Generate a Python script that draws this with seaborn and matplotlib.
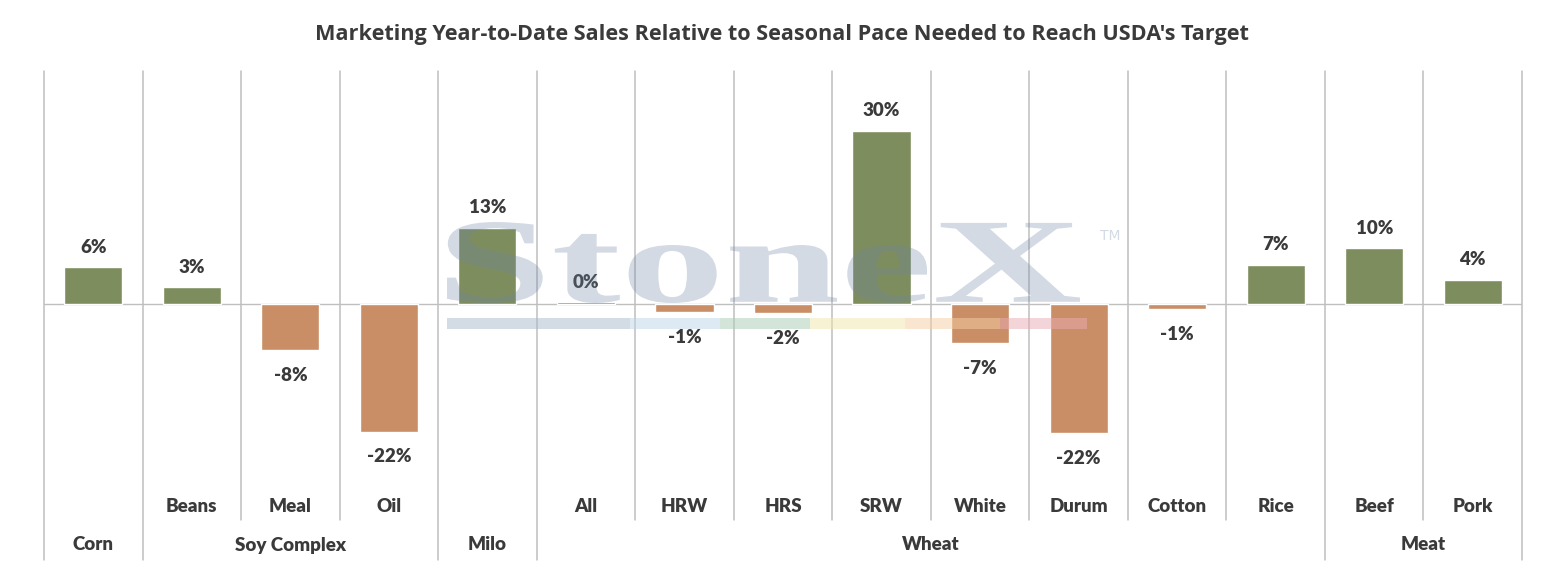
import matplotlib
matplotlib.use("Agg")
import matplotlib.pyplot as plt
import seaborn as sns
from matplotlib.textpath import TextPath
from matplotlib.font_manager import FontProperties
from matplotlib.patches import PathPatch, Rectangle
from matplotlib.transforms import Affine2D

# Data
items = ["Corn", "Beans", "Meal", "Oil", "Milo", "All", "HRW", "HRS",
         "SRW", "White", "Durum", "Cotton", "Rice", "Beef", "Pork"]
sub_labels = ["", "Beans", "Meal", "Oil", "", "All", "HRW", "HRS",
              "SRW", "White", "Durum", "Cotton", "Rice", "Beef", "Pork"]
groups = ["Corn", "Soy Complex", "Milo", "Wheat", "Meat"]
group_sizes = [1, 3, 1, 8, 2]
pace = [6.4, 2.9, -8.0, -22.1, 13.2, 0.3, -1.4, -1.6,
        30.0, -6.8, -22.4, -0.9, 6.8, 9.7, 4.2]

GREEN = "#7E8D5E"
ORANGE = "#C98E66"
GRID = "#BFBFBF"
TEXT = "#3A3A3A"
W, H = 1544, 575

sns.set_theme(style="white")
plt.rcParams["font.family"] = ["Lato", "DejaVu Sans"]

fig = plt.figure(figsize=(W / 100, H / 100), dpi=100)
# plot area in pixels: x 44..1522, y 71..560 (top-origin)
ax = fig.add_axes([44 / W, (H - 560) / H, (1522 - 44) / W, (560 - 71) / H])

sign = ["pos" if v >= 0 else "neg" for v in pace]
sns.barplot(x=items, y=pace, hue=sign, palette={"pos": GREEN, "neg": ORANGE},
            width=0.59, dodge=False, legend=False, saturation=1, ax=ax, zorder=3)

px = 5.77  # pixels per percent point
ax.set_ylim(-(560 - 304) / px, (304 - 71) / px)
ax.set_xlim(-0.5, len(items) - 0.5)
for s in ax.spines.values():
    s.set_visible(False)
ax.set_xticks([])
ax.set_yticks([])
ax.set_xlabel("")
ax.set_ylabel("")
ax.axhline(0, color=GRID, lw=1, zorder=2)


def yfrac(py):
    return (560 - py) / 489


# category separators; group edges run down through the group row
edges = [0]
for n in group_sizes:
    edges.append(edges[-1] + n)
xt = ax.get_xaxis_transform()
for b in range(len(items) + 1):
    bottom = 0 if b in edges else yfrac(520)
    ax.plot([b - 0.5, b - 0.5], [bottom, 1], color=GRID, lw=1.1,
            transform=xt, clip_on=False, zorder=1)

# data labels
for i, v in enumerate(pace):
    off = 10.4 if v >= 0 else -22
    ax.annotate(f"{v:.0f}%", (i, v), xytext=(0, off), textcoords="offset points",
                ha="center", va="baseline", fontsize=13.5, fontweight="heavy",
                color=TEXT, zorder=5)

# two-row category axis
for i, lab in enumerate(sub_labels):
    ax.text(i, yfrac(506), lab, transform=xt, ha="center", va="center",
            fontsize=13.5, fontweight="heavy", color=TEXT)
for g, a, b in zip(groups, edges[:-1], edges[1:]):
    ax.text((a + b - 1) / 2, yfrac(545), g, transform=xt, ha="center",
            va="center", fontsize=13.5, fontweight="heavy", color=TEXT)

fig.text(782 / W, 1 - 40 / H, "Marketing Year-to-Date Sales Relative to Seasonal Pace Needed to Reach USDA's Target",
         ha="center", va="baseline", fontsize=15.6, fontweight="bold",
         color=TEXT, family=["Open Sans", "DejaVu Sans"])

# StoneX watermark, stretched to its box in the reference
tp = TextPath((0, 0), "StoneX", prop=FontProperties(family="Liberation Serif", weight="bold"), size=1)
bb = tp.get_extents()
x0, x1, y0, y1 = 447, 1080, H - 303, H - 222
tr = Affine2D().translate(-bb.x0, -bb.y0).scale((x1 - x0) / bb.width, (y1 - y0) / bb.height).translate(x0, y0)
fig.patches.append(PathPatch(tr.transform_path(tp), transform=None, facecolor="#6F86A3",
                             edgecolor="none", alpha=0.3, zorder=10))
fig.text(1110 / W, 1 - 236 / H, "TM", ha="center", va="center", fontsize=10,
         color="#6F86A3", alpha=0.3, family=["DejaVu Sans"])
stripe = ["#A9B9CC", "#BCD6EA", "#A8CDB4", "#EFE6A8", "#F6CFA3", "#E9AAB4"]
sx = [447, 630, 720, 810, 905, 1000, 1087]
for c, a, b in zip(stripe, sx[:-1], sx[1:]):
    fig.patches.append(Rectangle((a, H - 329), b - a, 11, transform=None,
                                 facecolor=c, edgecolor="none", alpha=0.5, zorder=10))

fig.savefig("out.png", dpi=100, facecolor="white")
